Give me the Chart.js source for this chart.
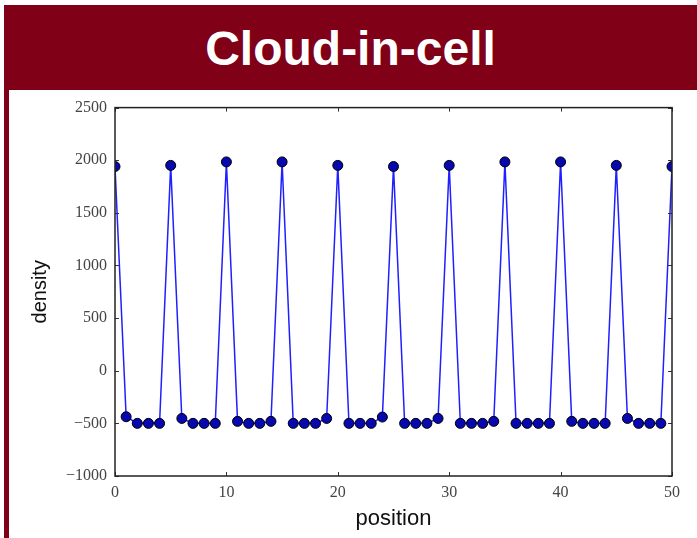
<!DOCTYPE html>
<html>
<head>
<meta charset="utf-8">
<script src="https://cdn.jsdelivr.net/npm/chart.js@4/dist/chart.umd.min.js"></script>
<style>
    html, body { margin: 0; padding: 0; background: #fff; }
    body { width: 697px; height: 538px; position: relative; overflow: hidden; }
    .banner {
        position: absolute; left: 4px; top: 5px; width: 693px; height: 85px;
        background: #800018; color: #fff;
        font: bold 48px "Liberation Sans", Arial, sans-serif;
        text-align: center; line-height: 88px;
    }
    .side { position: absolute; left: 4px; top: 90px; width: 5px; height: 448px; background: #800018; }
    .plot { position: absolute; left: 10px; top: 90px; width: 687px; height: 448px; }
</style>
</head>
<body>
<div class="banner">Cloud-in-cell</div>
<div class="side"></div>
<div class="plot"><canvas id="cic"></canvas></div>
<script>
// values
const positions = [0, 1, 2, 3, 4, 5, 6, 7, 8, 9, 10, 11, 12, 13, 14, 15, 16, 17, 18, 19, 20, 21, 22, 23, 24, 25,
    26, 27, 28, 29, 30, 31, 32, 33, 34, 35, 36, 37, 38, 39, 40, 41, 42, 43, 44, 45, 46, 47, 48, 49, 50];
const density = [1940, -437, -500, -500, -500, 1951, -453, -500, -500, -500,
    1984, -481, -500, -500, -481, 1984, -500, -500, -500, -453,
    1951, -500, -500, -500, -440, 1940, -500, -500, -500, -453,
    1951, -500, -500, -500, -481, 1984, -500, -500, -500, -500,
    1984, -481, -500, -500, -500, 1951, -453, -500, -500, -500, 1940];
const xTicks = [0, 10, 20, 30, 40, 50];
const yTicks = [-1000, -500, 0, 500, 1000, 1500, 2000, 2500];

const tickFont = { family: '"Liberation Serif", "DejaVu Serif", serif', size: 16 };
const minus = v => v < 0 ? '\u2212' + Math.abs(v) : String(v);

// matplotlib-style frame with inward ticks on all four sides
const framePlugin = {
    id: 'frame',
    afterDatasetsDraw(chart) {
        const { ctx, chartArea: a, scales } = chart;
        ctx.save();
        ctx.strokeStyle = '#333';
        ctx.lineWidth = 1;
        xTicks.forEach(v => {
            const px = Math.round(scales.x.getPixelForValue(v)) + 0.5;
            ctx.beginPath();
            ctx.moveTo(px, a.bottom); ctx.lineTo(px, a.bottom - 4);
            ctx.moveTo(px, a.top); ctx.lineTo(px, a.top + 4);
            ctx.stroke();
        });
        yTicks.forEach(v => {
            const py = Math.round(scales.y.getPixelForValue(v)) + 0.5;
            ctx.beginPath();
            ctx.moveTo(a.left, py); ctx.lineTo(a.left + 4, py);
            ctx.moveTo(a.right, py); ctx.lineTo(a.right - 4, py);
            ctx.stroke();
        });
        ctx.strokeStyle = '#222';
        ctx.lineWidth = 1.5;
        ctx.strokeRect(a.left, a.top, a.right - a.left, a.bottom - a.top);
        ctx.restore();
    }
};

new Chart(document.getElementById('cic'), {
    type: 'line',
    data: {
        datasets: [{
            data: positions.map((p, i) => ({ x: p, y: density[i] })),
            borderColor: '#1f1fff',
            borderWidth: 1.5,
            pointRadius: 5,
            pointBackgroundColor: '#0808b0',
            pointBorderColor: '#000',
            pointBorderWidth: 1,
            tension: 0
        }]
    },
    options: {
        responsive: true,
        maintainAspectRatio: false,
        animation: false,
        layout: { padding: { top: 17, right: 25, left: 0, bottom: 0 } },
        plugins: { legend: { display: false }, tooltip: { enabled: false } },
        scales: {
            x: {
                type: 'linear', min: 0, max: 50,
                afterBuildTicks: s => { s.ticks = xTicks.map(v => ({ value: v })); },
                afterFit: s => { s.height = 62; },
                grid: { display: false, drawTicks: false },
                border: { display: false },
                ticks: { font: tickFont, color: '#444', padding: 7, callback: v => minus(v) },
                title: {
                    display: true, text: 'position', color: '#111',
                    font: { family: '"Liberation Sans", Arial, sans-serif', size: 22 },
                    padding: { top: 0, bottom: 6 }
                }
            },
            y: {
                type: 'linear', min: -1000, max: 2500,
                afterBuildTicks: s => { s.ticks = yTicks.map(v => ({ value: v })); },
                afterFit: s => { s.width = 105; },
                grid: { display: false, drawTicks: false },
                border: { display: false },
                ticks: { font: tickFont, color: '#444', padding: 8, callback: v => minus(v) },
                title: {
                    display: true, text: 'density', color: '#111',
                    font: { family: '"Liberation Sans", Arial, sans-serif', size: 20 },
                    padding: { top: 18, bottom: 0 }
                }
            }
        }
    },
    plugins: [framePlugin]
});
</script>
</body>
</html>
